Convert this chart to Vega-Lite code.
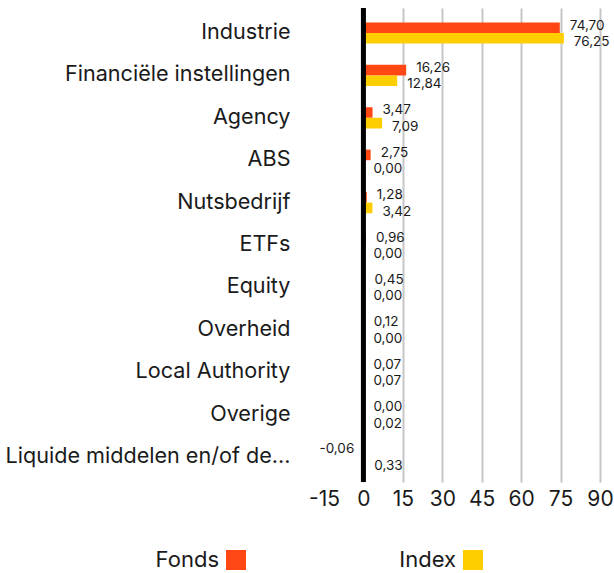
{
  "$schema": "https://vega.github.io/schema/vega-lite/v6.json",
  "width": 276,
  "height": 474,
  "autosize": {"type": "none"},
  "padding": {"left": 324, "top": 8, "right": 14, "bottom": 91},
  "config": {
    "locale": {"number": {"decimal": ",", "thousands": ".", "grouping": [3], "currency": ["€", ""], "minus": "-"}},
    "font": "Inter",
    "view": {"stroke": null}
  },
  "data": {
    "values": [
      {"cat": "Industrie", "group": "Fonds", "value": 74.70},
      {"cat": "Industrie", "group": "Index", "value": 76.25},
      {"cat": "Financiële instellingen", "group": "Fonds", "value": 16.26},
      {"cat": "Financiële instellingen", "group": "Index", "value": 12.84},
      {"cat": "Agency", "group": "Fonds", "value": 3.47},
      {"cat": "Agency", "group": "Index", "value": 7.09},
      {"cat": "ABS", "group": "Fonds", "value": 2.75},
      {"cat": "ABS", "group": "Index", "value": 0.00},
      {"cat": "Nutsbedrijf", "group": "Fonds", "value": 1.28},
      {"cat": "Nutsbedrijf", "group": "Index", "value": 3.42},
      {"cat": "ETFs", "group": "Fonds", "value": 0.96},
      {"cat": "ETFs", "group": "Index", "value": 0.00},
      {"cat": "Equity", "group": "Fonds", "value": 0.45},
      {"cat": "Equity", "group": "Index", "value": 0.00},
      {"cat": "Overheid", "group": "Fonds", "value": 0.12},
      {"cat": "Overheid", "group": "Index", "value": 0.00},
      {"cat": "Local Authority", "group": "Fonds", "value": 0.07},
      {"cat": "Local Authority", "group": "Index", "value": 0.07},
      {"cat": "Overige", "group": "Fonds", "value": 0.00},
      {"cat": "Overige", "group": "Index", "value": 0.02},
      {"cat": "Liquide middelen en/of de...", "group": "Fonds", "value": -0.06},
      {"cat": "Liquide middelen en/of de...", "group": "Index", "value": 0.33}
    ]
  },
  "layer": [
    {
      "mark": {"type": "bar"},
      "encoding": {
        "y": {
          "field": "cat", "type": "nominal", "sort": null, "title": null,
          "scale": {"paddingInner": 0.5, "paddingOuter": 0.34},
          "axis": {"ticks": false, "domain": false, "labelFontSize": 21.6, "labelPadding": 34, "labelColor": "#1a1a1a", "labelLimit": 400}
        },
        "x": {
          "field": "value", "type": "quantitative",
          "scale": {"domain": [-15, 90], "nice": false, "zero": false},
          "axis": {
            "values": [-15, 0, 15, 30, 45, 60, 75, 90], "tickCount": 20, "title": null, "domain": false, "ticks": false,
            "labelFontSize": 21, "labelPadding": 6, "format": "d", "labelColor": "#1a1a1a",
            "labelOverlap": false, "labelFlush": false,
            "gridColor": {"condition": {"test": "datum.value <= -15", "value": "transparent"}, "value": "#c6c6c6"},
            "gridWidth": 2
          }
        },
        "yOffset": {"field": "group", "sort": ["Fonds", "Index"]},
        "color": {
          "field": "group", "type": "nominal",
          "scale": {"domain": ["Fonds", "Index"], "range": ["#FF4713", "#FFCE00"]},
          "legend": {
            "title": null, "orient": "none", "direction": "horizontal", "legendX": -99, "legendY": 541,
            "symbolType": "square", "symbolSize": 400, "symbolStrokeWidth": 0, "labelFontSize": 22,
            "labelAlign": "right", "labelOffset": -28, "columnPadding": 153, "labelColor": "#1a1a1a"
          }
        }
      }
    },
    {
      "mark": {
        "type": "text", "fontSize": 13.5, "color": "#1a1a1a",
        "align": {"expr": "datum.value < 0 ? 'right' : 'left'"},
        "dx": {"expr": "datum.value < 0 ? -9 : 10"},
        "dy": {"expr": "datum.group === 'Fonds' ? -7.5 : 9"}
      },
      "encoding": {
        "y": {"field": "cat", "type": "nominal", "sort": null},
        "x": {"field": "value", "type": "quantitative"},
        "text": {"field": "value", "type": "quantitative", "format": ".2f"}
      }
    },
    {
      "data": {"values": [{}]},
      "mark": {"type": "rule", "color": "#000000", "strokeWidth": 5},
      "encoding": {"x": {"datum": 0}}
    }
  ]
}
